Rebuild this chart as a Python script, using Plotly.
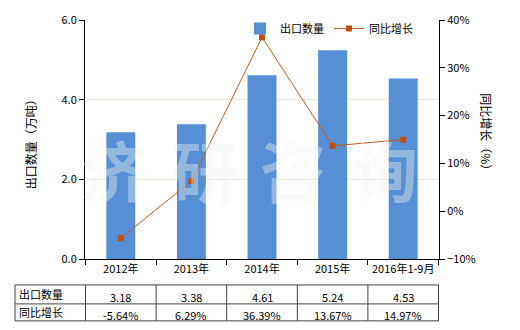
import plotly.graph_objects as go

categories = ["2012年", "2013年", "2014年", "2015年", "2016年1-9月"]
export_qty = [3.18, 3.38, 4.61, 5.24, 4.53]
yoy_growth = [-5.64, 6.29, 36.39, 13.67, 14.97]
qty_labels = ["3.18", "3.38", "4.61", "5.24", "4.53"]
growth_labels = ["-5.64%", "6.29%", "36.39%", "13.67%", "14.97%"]
row_names = ["出口数量", "同比增长"]

W, H = 520, 330
L, R, T, B = 85, 81, 19.5, 71
pw, ph = W - L - R, H - T - B

def px_x(px):
    return (px - L) / pw

def px_y(py):
    return (H - B - py) / ph

FONT = "Noto Sans CJK SC"
BAR_COLOR = "#568fd6"
LINE_COLOR = "#c55a1c"

fig = go.Figure()
fig.add_trace(go.Bar(
    x=categories, y=export_qty, name="出口数量",
    marker=dict(color=BAR_COLOR, line=dict(width=0)),
    width=0.41, yaxis="y"))
fig.add_trace(go.Scatter(
    x=categories, y=yoy_growth, name="同比增长", yaxis="y2",
    mode="lines+markers",
    line=dict(color=LINE_COLOR, width=1),
    marker=dict(symbol="square", size=6, color="#c04e0c")))

shapes = []
annotations = []

tbl_left = px_x(15)
ys = [px_y(285), px_y(304), px_y(321)]
line_style = dict(color="#444444", width=1)
for yv in ys:
    shapes.append(dict(type="line", xref="paper", yref="paper",
                       x0=tbl_left, x1=1.0, y0=yv, y1=yv, line=line_style))
shapes.append(dict(type="line", xref="paper", yref="paper",
                   x0=tbl_left, x1=tbl_left, y0=ys[0], y1=ys[2], line=line_style))
for i in range(len(categories) + 1):
    shapes.append(dict(type="line", xref="x", yref="paper",
                       x0=i - 0.5, x1=i - 0.5, y0=ys[0], y1=ys[2], line=line_style))

for r, (name, labels) in enumerate(zip(row_names, [qty_labels, growth_labels])):
    yc = (ys[r] + ys[r + 1]) / 2
    annotations.append(dict(xref="paper", yref="paper", x=px_x(17), y=yc,
                            text=name, showarrow=False, xanchor="left",
                            yanchor="middle", font=dict(family=FONT, size=11, color="#000")))
    for c, lab in zip(categories, labels):
        annotations.append(dict(xref="x", yref="paper", x=c, y=yc - 0.01,
                                text=lab, showarrow=False, xanchor="center",
                                yanchor="middle", font=dict(family=FONT, size=11, color="#000")))

# axis titles
annotations.append(dict(xref="paper", yref="paper", x=px_x(30), y=px_y(141),
                        text="出口数量（万吨）", textangle=-90, showarrow=False,
                        xanchor="center", yanchor="middle",
                        font=dict(family=FONT, size=12, color="#000")))
annotations.append(dict(xref="paper", yref="paper", x=px_x(487), y=px_y(134),
                        text="同比增长（%）", textangle=90, showarrow=False,
                        xanchor="center", yanchor="middle",
                        font=dict(family=FONT, size=12, color="#000")))

# watermark
for ch, cx in zip("济研咨询", [114, 205, 293, 385]):
    annotations.append(dict(xref="paper", yref="paper", x=px_x(cx), y=px_y(168),
                            text="<b>" + ch + "</b>", showarrow=False,
                            xanchor="center", yanchor="middle",
                            font=dict(family=FONT, size=66, color="rgba(238,244,240,0.4)")))

fig.update_layout(
    width=W, height=H,
    margin=dict(l=L, r=R, t=T, b=B, pad=0),
    paper_bgcolor="white", plot_bgcolor="white",
    font=dict(family=FONT, size=11, color="#000"),
    showlegend=True,
    legend=dict(orientation="h", x=px_x(240), y=px_y(28), xanchor="left", yanchor="middle",
                bgcolor="rgba(0,0,0,0)", font=dict(family=FONT, size=11),
                itemwidth=30, tracegroupgap=0),
    xaxis=dict(type="category", showline=True, linecolor="#000", linewidth=1,
               ticks="outside", ticklen=5, tickcolor="#000", tickson="boundaries",
               tickangle=0, showgrid=False, tickfont=dict(family=FONT, size=11)),
    yaxis=dict(range=[0, 6], dtick=2, tickformat=".1f", showline=True,
               linecolor="#000", linewidth=1, ticks="outside", ticklen=5,
               tickcolor="#000", showgrid=True, gridcolor="#ebebd9", gridwidth=1,
               zeroline=False),
    yaxis2=dict(range=[-10, 40], dtick=10, ticksuffix="%", overlaying="y", side="right",
                showline=True, linecolor="#000", linewidth=1, ticks="outside",
                ticklen=5, tickcolor="#000", showgrid=False, zeroline=False),
    shapes=shapes,
    annotations=annotations,
)

fig.write_html("out.html")
